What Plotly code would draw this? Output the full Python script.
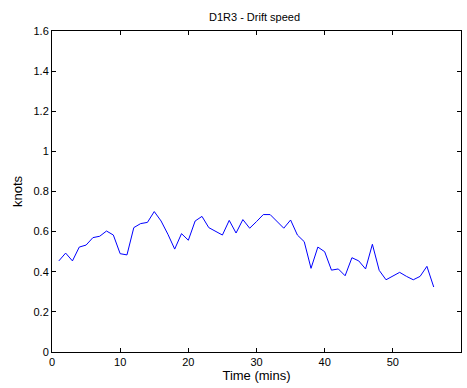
import plotly.graph_objects as go

time_min = list(range(1, 57))
speed_knots = [0.454, 0.493, 0.454, 0.523, 0.533, 0.570, 0.577, 0.603, 0.583, 0.490,
               0.484, 0.620, 0.640, 0.646, 0.700, 0.653, 0.587, 0.513, 0.590, 0.557,
               0.653, 0.676, 0.620, 0.603, 0.583, 0.656, 0.593, 0.660, 0.617, 0.650,
               0.685, 0.685, 0.650, 0.617, 0.658, 0.583, 0.550, 0.417, 0.523, 0.500,
               0.408, 0.414, 0.380, 0.470, 0.454, 0.414, 0.537, 0.407, 0.360, 0.377,
               0.397, 0.377, 0.360, 0.377, 0.427, 0.324]

x_ticks = [0, 10, 20, 30, 40, 50, 60]
y_ticks = [0, 0.2, 0.4, 0.6, 0.8, 1.0, 1.2, 1.4, 1.6]
y_tick_labels = ["0", "0.2", "0.4", "0.6", "0.8", "1", "1.2", "1.4", "1.6"]

fig = go.Figure()
fig.add_trace(go.Scatter(x=time_min, y=speed_knots, mode="lines",
                         line=dict(color="rgb(0,0,255)", width=1), showlegend=False))

font = dict(family="Liberation Sans, Arial, sans-serif", size=11, color="black")
fig.update_layout(
    width=467, height=388,
    margin=dict(l=52, r=6, t=31, b=36),
    paper_bgcolor="white", plot_bgcolor="white",
    font=font,
    title=dict(text="D1R3 - Drift speed", x=0.545, xanchor="center",
               yref="container", y=1 - 17 / 388, yanchor="middle",
               font=dict(family="Liberation Sans, Arial, sans-serif", size=11, color="black")),
    xaxis=dict(range=[0, 60], tickvals=x_ticks, ticks="inside", ticklen=4,
               showline=True, linecolor="black", linewidth=1, mirror="allticks",
               showgrid=False, zeroline=False, tickcolor="black",
               title=dict(text="Time (mins)", standoff=3)),
    yaxis=dict(range=[0, 1.6], tickvals=y_ticks, ticktext=y_tick_labels,
               ticks="inside", ticklen=4,
               showline=True, linecolor="black", linewidth=1, mirror="allticks",
               showgrid=False, zeroline=False, tickcolor="black",
               title=dict(text="knots", standoff=7)),
)

fig.write_html("out.html")
